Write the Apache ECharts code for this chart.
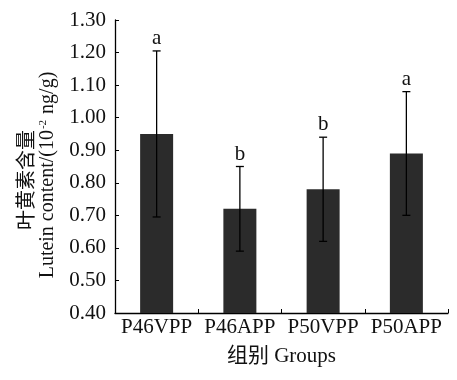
<!DOCTYPE html>
<html>
<head>
<meta charset="utf-8">
<script src="https://cdn.jsdelivr.net/npm/echarts@6/dist/echarts.min.js"></script>
<style>
html,body{margin:0;padding:0;background:#fff;}
#c{width:457px;height:380px;}
</style>
</head>
<body>
<div id="c"></div>
<script>
const categories = ['P46VPP', 'P46APP', 'P50VPP', 'P50APP'];
const means = [0.95, 0.72, 0.78, 0.89];
const errors = [0.255, 0.13, 0.16, 0.19];
const letters = ['a', 'b', 'b', 'a'];
const yMin = 0.4, yMax = 1.3, yStep = 0.1;

const serif = '"Liberation Serif", "Times New Roman", serif';
const chart = echarts.init(document.getElementById('c'));

const errData = categories.map((c, i) => [i, means[i], errors[i], letters[i]]);

chart.setOption({
  animation: false,
  backgroundColor: '#fff',
  grid: { left: 115, right: 9, top: 20, bottom: 67, containLabel: false },
  xAxis: {
    type: 'category',
    data: categories,
    axisLine: { lineStyle: { color: '#000', width: 1.3 } },
    axisTick: { show: true, inside: true, length: 4, alignWithLabel: false, lineStyle: { color: '#000' } },
    axisLabel: { color: '#111', fontFamily: serif, fontSize: 21, margin: 4, interval: 0 },
    name: '组别 Groups',
    nameLocation: 'middle',
    nameGap: 33,
    nameTextStyle: { color: '#111', fontFamily: serif + ', "Noto Sans CJK SC"', fontSize: 21 }
  },
  yAxis: {
    type: 'value',
    min: yMin, max: yMax, interval: yStep,
    axisLine: { show: true, lineStyle: { color: '#000', width: 1.3 } },
    axisTick: { show: true, inside: true, length: 4, lineStyle: { color: '#000' } },
    splitLine: { show: false },
    axisLabel: { color: '#111', fontFamily: serif, fontSize: 21, margin: 9,
      formatter: v => v.toFixed(2) }
  },
  graphic: [
    {
      type: 'text', x: 25, y: 180, rotation: Math.PI / 2,
      style: { text: '叶黄素含量', fill: '#111', font: '20px "Noto Sans CJK SC"',
        align: 'center', verticalAlign: 'middle' }
    },
    {
      type: 'text', x: 48, y: 175, rotation: Math.PI / 2,
      style: {
        text: '{en|Lutein content/(10}{sup|-2}{en| ng/g)}',
        align: 'center', verticalAlign: 'middle',
        rich: {
          en: { fontFamily: serif, fontSize: 20, fill: '#111', color: '#111' },
          sup: { fontFamily: serif, fontSize: 11, fill: '#111', color: '#111', verticalAlign: 'top', padding: [0, 1, 8, 1] }
        }
      }
    }
  ],
  series: [
    {
      type: 'bar',
      data: means,
      barWidth: 33,
      itemStyle: { color: '#2b2b2b' },
      z: 1
    },
    {
      type: 'custom',
      data: errData,
      z: 5,
      renderItem: function (params, api) {
        const i = api.value(0), m = api.value(1), e = api.value(2);
        const top = api.coord([i, m + e]);
        const bot = api.coord([i, m - e]);
        const cap = 4;
        const style = { stroke: '#000', lineWidth: 1.3 };
        return {
          type: 'group',
          children: [
            { type: 'line', shape: { x1: top[0], y1: top[1], x2: bot[0], y2: bot[1] }, style },
            { type: 'line', shape: { x1: top[0] - cap, y1: top[1], x2: top[0] + cap, y2: top[1] }, style },
            { type: 'line', shape: { x1: bot[0] - cap, y1: bot[1], x2: bot[0] + cap, y2: bot[1] }, style },
            { type: 'text', x: top[0], y: top[1] - 2,
              style: { text: letters[i], fill: '#111', font: '21px ' + serif, align: 'center', verticalAlign: 'bottom' } }
          ]
        };
      }
    }
  ]
});
</script>
</body>
</html>
